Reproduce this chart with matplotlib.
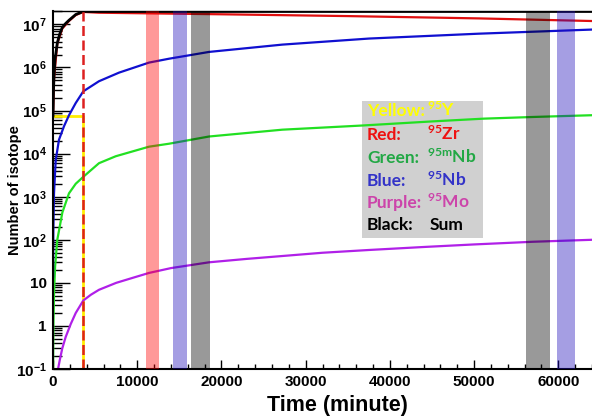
import matplotlib.pyplot as plt
from matplotlib.patches import Rectangle
from matplotlib.ticker import MultipleLocator, LogLocator, FixedLocator, FixedFormatter, NullFormatter

plt.rcParams['font.family'] = 'Liberation Sans'
plt.rcParams['font.weight'] = 'bold'
plt.rcParams['mathtext.fontset'] = 'custom'
plt.rcParams['mathtext.bf'] = 'Liberation Sans:bold'
plt.rcParams['mathtext.rm'] = 'Liberation Sans:bold'
plt.rcParams['mathtext.sf'] = 'Lato:bold'

# end of irradiation (minute)
t_irr = 3600

# 95Y (yellow)
t_y = [0, 3600, 3600]
n_y = [7.6e4, 7.6e4, 0.01]

# 95Zr (red)
t_zr = [20, 120, 510, 1100, 1900, 2700, 3600, 5460, 20000, 35150, 50590, 64000]
n_zr = [1e5, 5.5e5, 3.6e6, 8.0e6, 1.2e7, 1.65e7, 1.95e7, 1.87e7, 1.72e7, 1.56e7, 1.38e7, 1.2e7]

# 95mNb (green)
t_nbm = [15, 30, 60, 120, 250, 510, 1110, 1900, 2700, 3600, 5460, 7450, 11400, 13780,
         18530, 27230, 36740, 45000, 51190, 57000, 64000]
n_nbm = [0.08, 0.35, 1.4, 5.5, 24, 100, 430, 1.2e3, 2.0e3, 2.9e3, 6.0e3, 8.7e3, 1.45e4, 1.7e4,
         2.5e4, 3.6e4, 4.5e4, 5.6e4, 6.5e4, 7.1e4, 7.8e4]

# 95Nb (blue)
t_nb = [10, 40, 120, 320, 710, 1300, 1900, 2700, 3600, 5460, 7840, 11400, 13780,
        18530, 27230, 37530, 50590, 57240, 64000]
n_nb = [14, 160, 1.2e3, 7e3, 2.1e4, 4.3e4, 7.8e4, 1.5e5, 2.8e5, 4.8e5, 7.6e5, 1.3e6, 1.6e6,
        2.3e6, 3.4e6, 4.7e6, 6.1e6, 6.8e6, 7.6e6]

# 95Mo (purple)
t_mo = [600, 800, 1100, 1500, 2100, 2700, 3600, 4500, 5460, 7500, 9420, 11400, 14000,
        18530, 23000, 27230, 32000, 37530, 44000, 50000, 57000, 64000]
n_mo = [0.1, 0.16, 0.3, 0.55, 1.1, 2.0, 3.9, 5.3, 6.9, 10, 13, 17, 22,
        30, 36, 42, 50, 58, 68, 78, 90, 100]

# sum (black)
t_sum = [0, 60, 120, 250, 510, 800, 1100, 1500, 1900, 2700, 3600, 64000]
n_sum = [7.6e4, 3e5, 6.3e5, 1.6e6, 3.7e6, 6e6, 8.5e6, 1.05e7, 1.25e7, 1.7e7, 2.0e7, 2.0e7]

# measurement windows (minute)
bands = [(11100, 12600), (14250, 15950), (16350, 18600), (56150, 59050), (59800, 61950)]
band_colors = [(1, 0, 0), (0.12, 0.05, 0.73), (0, 0, 0), (0, 0, 0), (0.12, 0.05, 0.73)]

yticks = [0.1, 1, 10, 1e2, 1e3, 1e4, 1e5, 1e6, 1e7]
ylabels = [r'$\mathbf{10^{-1}}$', '1', '10', r'$\mathbf{10^{2}}$', r'$\mathbf{10^{3}}$',
           r'$\mathbf{10^{4}}$', r'$\mathbf{10^{5}}$', r'$\mathbf{10^{6}}$', r'$\mathbf{10^{7}}$']

legend_names = ['Yellow:', 'Red:', 'Green:', 'Blue:', 'Purple:', 'Black:']
legend_isotopes = [r'$\mathsf{^{95}Y}$', r'$\mathsf{^{95}Zr}$', r'$\mathsf{^{95m}Nb}$',
                   r'$\mathsf{^{95}Nb}$', r'$\mathsf{^{95}Mo}$', 'Sum']
legend_colors = ['#ffff00', '#ee1111', '#22a845', '#3333c8', '#cc44aa', '#000000']

W, H = 592, 417
fig = plt.figure(figsize=(W / 100, H / 100), dpi=100)
ax = fig.add_axes([53 / W, 48 / H, 539 / W, 358 / H])

# legend box (behind curves)
ax.add_patch(Rectangle((362 / W, 1 - 238 / H), 121 / W, 137 / H, transform=fig.transFigure,
                       facecolor='#d0d0d0', edgecolor='none', zorder=1, clip_on=False))

ax.plot(t_y, n_y, color='#ffee00', lw=2, zorder=2)
ax.plot(t_zr, n_zr, color='#e01010', lw=1.6, zorder=2)
ax.plot(t_nbm, n_nbm, color='#22e022', lw=1.6, zorder=2)
ax.plot(t_nb, n_nb, color='#1010d0', lw=1.6, zorder=2)
ax.plot(t_mo, n_mo, color='#b020e8', lw=1.6, zorder=2)
ax.plot(t_sum, n_sum, color='black', lw=2, zorder=2.2)
ax.axvline(t_irr, color='#dd2020', lw=1.8, ls=(0, (4, 1.8)), zorder=2.4)

for (a, b), c in zip(bands, band_colors):
    ax.axvspan(a, b, color=c, alpha=0.4, lw=0, zorder=3)

ax.set_yscale('log')
ax.set_xlim(0, 64000)
ax.set_ylim(0.1, 2.05e7)

ax.xaxis.set_major_locator(MultipleLocator(10000))
ax.xaxis.set_minor_locator(MultipleLocator(2000))
ax.yaxis.set_major_locator(FixedLocator(yticks))
ax.yaxis.set_major_formatter(FixedFormatter(ylabels))
ax.yaxis.set_minor_locator(LogLocator(base=10, subs=range(2, 10), numticks=20))
ax.yaxis.set_minor_formatter(NullFormatter())

ax.tick_params(axis='y', which='major', direction='in', length=12, width=1, pad=4.5, labelsize=11)
ax.tick_params(axis='y', which='minor', direction='in', length=6.5, width=1)
ax.tick_params(axis='x', which='major', direction='in', length=6.5, width=1, pad=4, labelsize=11)
ax.tick_params(axis='x', which='minor', direction='in', length=3.3, width=1)

for s in ['left', 'bottom']:
    ax.spines[s].set_linewidth(1.5)
ax.spines['top'].set_linewidth(1)
ax.spines['right'].set_visible(False)

fig.text(337 / W, 1 - 411.5 / H, 'Time (minute)', ha='center', va='baseline',
         fontsize=15.5, fontweight='bold')
fig.text(15 / W, 1 - 190 / H, 'Number of isotope', ha='center', va='center',
         rotation=90, fontsize=10.5, fontweight='bold')

baselines = [115.5, 140, 163, 185.5, 208, 230]
for name, iso, c, yb in zip(legend_names, legend_isotopes, legend_colors, baselines):
    fig.text(367 / W, 1 - yb / H, name, color=c, fontsize=12.5, family='Lato',
             fontweight='bold', va='baseline', ha='left', zorder=5)
    fig.text((427 if iso != 'Sum' else 430) / W, 1 - yb / H, iso, color=c, fontsize=12.5,
             family='Lato', fontweight='bold', va='baseline', ha='left', zorder=5)

fig.savefig('out.png', dpi=100)
